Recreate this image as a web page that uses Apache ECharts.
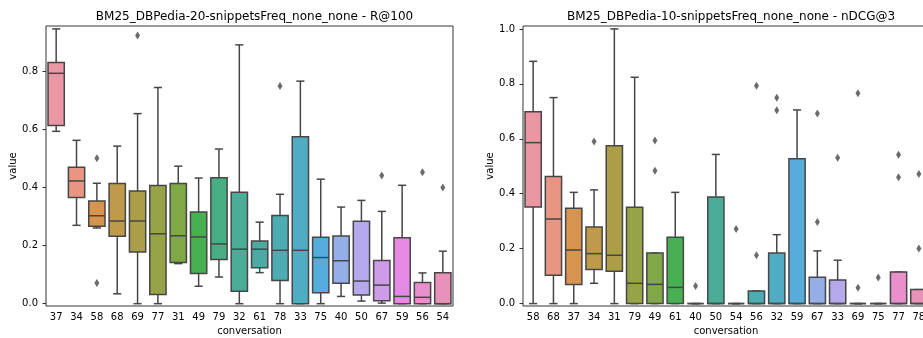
<!DOCTYPE html>
<html>
<head>
<meta charset="utf-8">
<script src="https://cdn.jsdelivr.net/npm/echarts@6/dist/echarts.min.js"></script>
<style>
html, body { margin: 0; padding: 0; background: #fff; overflow: hidden; }
#chart { width: 923px; height: 338px; }
</style>
</head>
<body>
<div id="chart"></div>
<script>
// left panel: R@100
var r100Cats = ['37','34','58','68','69','77','31','49','79','32','61','78','33','75','40','50','67','59','56','54'];
// [min, q1, median, q3, max]
var r100Box = [
    [0.594, 0.614, 0.794, 0.831, 0.947],
    [0.270, 0.366, 0.423, 0.470, 0.563],
    [0.261, 0.267, 0.303, 0.354, 0.415],
    [0.034, 0.232, 0.285, 0.414, 0.543],
    [0.000, 0.178, 0.285, 0.388, 0.655],
    [0.000, 0.032, 0.241, 0.407, 0.745],
    [0.138, 0.142, 0.234, 0.414, 0.474],
    [0.060, 0.104, 0.230, 0.316, 0.433],
    [0.092, 0.152, 0.206, 0.434, 0.533],
    [0.000, 0.043, 0.188, 0.384, 0.892],
    [0.107, 0.124, 0.188, 0.216, 0.281],
    [0.000, 0.080, 0.184, 0.304, 0.377],
    [0.000, 0.000, 0.184, 0.575, 0.767],
    [0.000, 0.038, 0.159, 0.229, 0.429],
    [0.025, 0.070, 0.148, 0.233, 0.333],
    [0.009, 0.030, 0.078, 0.284, 0.356],
    [0.002, 0.010, 0.064, 0.149, 0.318],
    [0.000, 0.000, 0.025, 0.227, 0.408],
    [0.000, 0.000, 0.022, 0.073, 0.106],
    [0.000, 0.000, 0.000, 0.107, 0.181]
];
var r100Outliers = [['58',0.501],['58',0.071],['69',0.924],['78',0.750],['67',0.442],['56',0.453],['54',0.400]];

// right panel: nDCG@3
var ndcgCats = ['58','68','37','34','31','79','49','61','40','50','54','56','32','59','67','33','69','75','77','78'];
var ndcgBox = [
    [0.000, 0.352, 0.586, 0.698, 0.882],
    [0.000, 0.103, 0.308, 0.463, 0.750],
    [0.000, 0.070, 0.195, 0.347, 0.405],
    [0.074, 0.124, 0.182, 0.279, 0.414],
    [0.000, 0.118, 0.176, 0.575, 1.000],
    [0.000, 0.000, 0.074, 0.351, 0.824],
    [0.000, 0.000, 0.070, 0.184, 0.184],
    [0.000, 0.000, 0.059, 0.242, 0.405],
    [0.000, 0.000, 0.000, 0.000, 0.000],
    [0.000, 0.000, 0.000, 0.388, 0.543],
    [0.000, 0.000, 0.000, 0.000, 0.000],
    [0.000, 0.000, 0.000, 0.046, 0.046],
    [0.000, 0.000, 0.000, 0.184, 0.251],
    [0.000, 0.000, 0.000, 0.527, 0.705],
    [0.000, 0.000, 0.000, 0.096, 0.192],
    [0.000, 0.000, 0.000, 0.086, 0.158],
    [0.000, 0.000, 0.000, 0.000, 0.000],
    [0.000, 0.000, 0.000, 0.000, 0.000],
    [0.000, 0.000, 0.000, 0.115, 0.115],
    [0.000, 0.000, 0.000, 0.051, 0.051]
];
var ndcgOutliers = [['34',0.590],['49',0.594],['49',0.484],['40',0.064],['54',0.272],['56',0.793],['56',0.176],
    ['32',0.749],['32',0.704],['67',0.692],['67',0.297],['33',0.531],['69',0.766],['69',0.058],['75',0.095],
    ['77',0.542],['77',0.460],['78',0.472],['78',0.201]];

var yTicksLeft = [0, 0.2, 0.4, 0.6, 0.8];
var yTicksRight = [0, 0.2, 0.4, 0.6, 0.8, 1.0];

// seaborn-like husl palette (l=.7), desaturated to 0.75
var M = [[3.240969941904521, -1.537383177570093, -0.498610760293],
         [-0.96924363628087, 1.87596750150772, 0.041555057407175],
         [0.055630079696993, -0.20397695888897, 1.056971514242878]];
var KAPPA = 903.2962962, EPS = 0.0088564516;
function maxChroma(L, H) {
    var sub1 = Math.pow(L + 16, 3) / 1560896;
    var sub2 = sub1 > EPS ? sub1 : L / KAPPA;
    var hr = H / 360 * 2 * Math.PI, best = Infinity;
    for (var c = 0; c < 3; c++) {
        var m1 = M[c][0], m2 = M[c][1], m3 = M[c][2];
        for (var t = 0; t < 2; t++) {
            var top1 = (284517 * m1 - 94839 * m3) * sub2;
            var top2 = (838422 * m3 + 769860 * m2 + 731718 * m1) * L * sub2 - 769860 * t * L;
            var bottom = (632260 * m3 - 126452 * m2) * sub2 + 126452 * t;
            var len = (top2 / bottom) / (Math.sin(hr) - (top1 / bottom) * Math.cos(hr));
            if (len >= 0 && len < best) best = len;
        }
    }
    return best;
}
function huslToRgb(H, S, L) {
    var C = maxChroma(L, H) / 100 * S;
    var hr = H / 360 * 2 * Math.PI;
    var U = C * Math.cos(hr), V = C * Math.sin(hr);
    var vu = U / (13 * L) + 0.19783000664283, vv = V / (13 * L) + 0.46831999493879;
    var Y = L <= 8 ? L / KAPPA : Math.pow((L + 16) / 116, 3);
    var X = -(9 * Y * vu) / ((vu - 4) * vv - vu * vv);
    var Z = (9 * Y - 15 * vv * Y - vv * X) / (3 * vv);
    return M.map(function (row) {
        var v = row[0] * X + row[1] * Y + row[2] * Z;
        v = v <= 0.0031308 ? 12.92 * v : 1.055 * Math.pow(v, 1 / 2.4) - 0.055;
        return Math.min(1, Math.max(0, v));
    });
}
function rgbToHls(r, g, b) {
    var mx = Math.max(r, g, b), mn = Math.min(r, g, b), l = (mx + mn) / 2, h = 0, s = 0;
    if (mx !== mn) {
        var d = mx - mn;
        s = l <= 0.5 ? d / (mx + mn) : d / (2 - mx - mn);
        if (mx === r) h = ((g - b) / d) / 6;
        else if (mx === g) h = (2 + (b - r) / d) / 6;
        else h = (4 + (r - g) / d) / 6;
        h = (h + 1) % 1;
    }
    return [h, l, s];
}
function hlsToRgb(h, l, s) {
    if (s === 0) return [l, l, l];
    var q = l <= 0.5 ? l * (1 + s) : l + s - l * s, p = 2 * l - q;
    function f(t) {
        t = (t + 1) % 1;
        if (t < 1 / 6) return p + (q - p) * t * 6;
        if (t < 0.5) return q;
        if (t < 2 / 3) return p + (q - p) * (2 / 3 - t) * 6;
        return p;
    }
    return [f(h + 1 / 3), f(h), f(h - 1 / 3)];
}
function toHex(c) {
    return '#' + c.map(function (v) { var s = Math.round(v * 255).toString(16); return s.length < 2 ? '0' + s : s; }).join('');
}
var palette = [], minLight = 1;
for (var k = 0; k < 20; k++) {
    var hue = ((k / 20 + 0.01) % 1) * 359;
    var rgb = huslToRgb(hue, 0.9 * 99, 0.7 * 99);
    var hls = rgbToHls(rgb[0], rgb[1], rgb[2]);
    var des = hlsToRgb(hls[0], hls[1], hls[2] * 0.75);
    minLight = Math.min(minLight, rgbToHls(des[0], des[1], des[2])[1]);
    palette.push(toHex(des));
}
var lum = minLight * 0.6;
var gray = toHex([lum, lum, lum]);

var font = 'DejaVu Sans';

function renderBox(params, api) {
    var i = api.value(0);
    var x = api.coord([i, 0])[0];
    var bw = api.size([1, 0])[0] * 0.8, cw = bw / 2;
    var yMin = api.coord([i, api.value(1)])[1];
    var yQ1 = api.coord([i, api.value(2)])[1];
    var yMed = api.coord([i, api.value(3)])[1];
    var yQ3 = api.coord([i, api.value(4)])[1];
    var yMax = api.coord([i, api.value(5)])[1];
    var ln = { stroke: gray, lineWidth: 1.5 };
    return {
        type: 'group',
        children: [
            { type: 'line', shape: { x1: x, y1: yQ3, x2: x, y2: yMax }, style: ln },
            { type: 'line', shape: { x1: x, y1: yQ1, x2: x, y2: yMin }, style: ln },
            { type: 'line', shape: { x1: x - cw / 2, y1: yMax, x2: x + cw / 2, y2: yMax }, style: ln },
            { type: 'line', shape: { x1: x - cw / 2, y1: yMin, x2: x + cw / 2, y2: yMin }, style: ln },
            { type: 'rect', shape: { x: x - bw / 2, y: yQ3, width: bw, height: yQ1 - yQ3 },
              style: { fill: palette[params.dataIndex], stroke: gray, lineWidth: 1.5 } },
            { type: 'line', shape: { x1: x - bw / 2, y1: yMed, x2: x + bw / 2, y2: yMed }, style: ln }
        ]
    };
}

function boxData(box) {
    return box.map(function (b, i) { return [i].concat(b); });
}
function outlierData(cats, pts) {
    return pts.map(function (p) { return [cats.indexOf(p[0]), p[1]]; });
}

function xAxisFor(idx, cats) {
    return {
        type: 'category', gridIndex: idx, data: cats,
        name: 'conversation', nameLocation: 'middle', nameGap: 20,
        nameTextStyle: { color: '#000', fontSize: 10, fontFamily: font },
        axisLine: { show: false },
        axisTick: { alignWithLabel: true, length: 3.5, lineStyle: { color: '#000', width: 0.8 } },
        axisLabel: { interval: 0, margin: 6, color: '#000', fontSize: 10, fontFamily: font },
        splitLine: { show: false }
    };
}
function yAxisFor(idx, min, max, ticks) {
    return {
        type: 'value', gridIndex: idx, min: min, max: max,
        name: 'value', nameLocation: 'middle', nameGap: 27, nameRotate: 90,
        nameTextStyle: { color: '#000', fontSize: 10, fontFamily: font },
        axisLine: { show: false },
        axisTick: { show: true, length: 3.5, customValues: ticks, lineStyle: { color: '#000', width: 0.8 } },
        axisLabel: { margin: 8, customValues: ticks, color: '#000', fontSize: 10, fontFamily: font,
            formatter: function (v) { return v.toFixed(1); } },
        splitLine: { show: false }
    };
}

var chart = echarts.init(document.getElementById('chart'));
var option = {
    backgroundColor: '#fff',
    animation: false,
    title: [
        { text: 'BM25_DBPedia-20-snippetsFreq_none_none - R@100', left: 249.5, top: 6, textAlign: 'center',
          textStyle: { color: '#000', fontSize: 12, fontWeight: 'normal', fontFamily: font } },
        { text: 'BM25_DBPedia-10-snippetsFreq_none_none - nDCG@3', left: 726, top: 6, textAlign: 'center',
          textStyle: { color: '#000', fontSize: 12, fontWeight: 'normal', fontFamily: font } }
    ],
    grid: [
        { left: 46, top: 26, width: 407, height: 280, show: true, borderColor: '#000', borderWidth: 0.8,
          backgroundColor: 'transparent', outerBoundsMode: 'none' },
        { left: 523, top: 26, width: 406, height: 280, show: true, borderColor: '#000', borderWidth: 0.8,
          backgroundColor: 'transparent', outerBoundsMode: 'none' }
    ],
    xAxis: [xAxisFor(0, r100Cats), xAxisFor(1, ndcgCats)],
    yAxis: [yAxisFor(0, -0.008, 0.957, yTicksLeft), yAxisFor(1, -0.0087, 1.0106, yTicksRight)],
    series: [
        { type: 'custom', xAxisIndex: 0, yAxisIndex: 0, renderItem: renderBox,
          encode: { x: 0, y: [1, 2, 3, 4, 5] }, data: boxData(r100Box) },
        { type: 'scatter', xAxisIndex: 0, yAxisIndex: 0, symbol: 'diamond', symbolSize: [5, 8],
          itemStyle: { color: gray }, data: outlierData(r100Cats, r100Outliers) },
        { type: 'custom', xAxisIndex: 1, yAxisIndex: 1, renderItem: renderBox,
          encode: { x: 0, y: [1, 2, 3, 4, 5] }, data: boxData(ndcgBox) },
        { type: 'scatter', xAxisIndex: 1, yAxisIndex: 1, symbol: 'diamond', symbolSize: [5, 8],
          itemStyle: { color: gray }, data: outlierData(ndcgCats, ndcgOutliers) }
    ]
};
chart.setOption(option);
</script>
</body>
</html>
